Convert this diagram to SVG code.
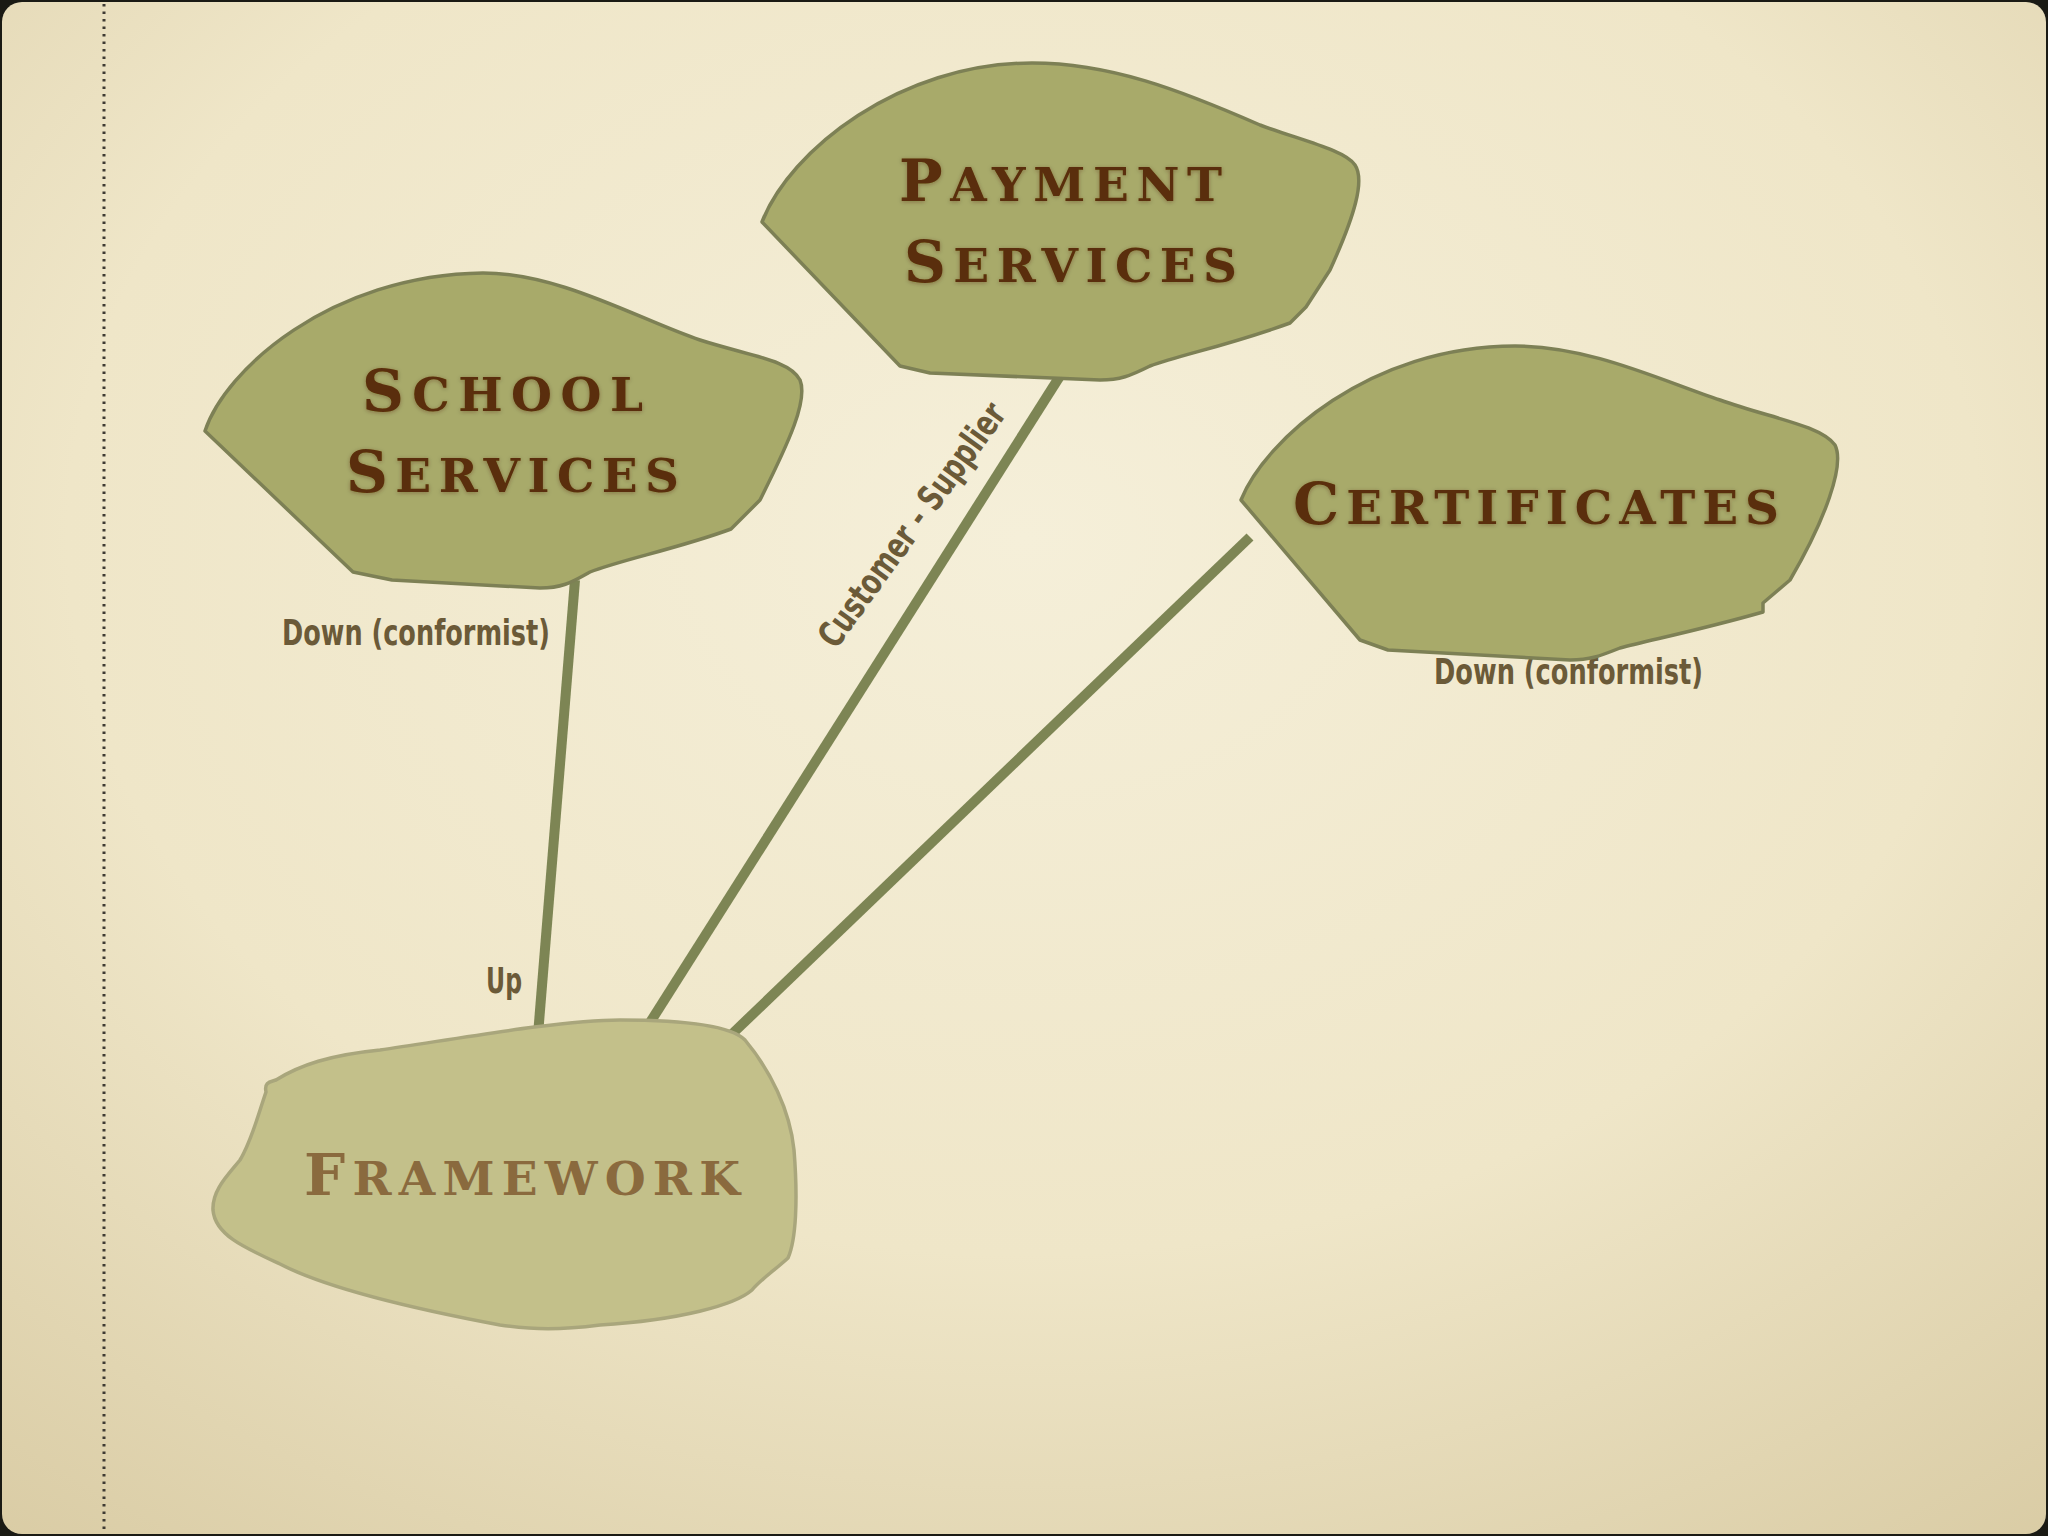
<svg xmlns="http://www.w3.org/2000/svg" width="2048" height="1536" viewBox="0 0 2048 1536">
<style>
.blob{fill:#a8aa6a;stroke:#7d8055;stroke-width:3.5;stroke-linejoin:round}
.blob-fw{fill:#c3c08a;stroke:#a9a67c;stroke-width:3.5;stroke-linejoin:round}
.title{font-family:"DejaVu Serif","Liberation Serif",serif;font-weight:bold;fill:#5a2f08;filter:url(#glow)}
.title-fw{font-family:"DejaVu Serif","Liberation Serif",serif;font-weight:bold;fill:#8a6a3e}
.big{font-size:58px}
.sm{font-size:47px}
.conn{stroke:#7d8554;stroke-width:10;stroke-linecap:butt;fill:none}
.lbl{font-family:"DejaVu Sans Condensed","Liberation Sans Narrow","Roboto Condensed",sans-serif;font-size:36px;fill:#6b5a38;font-weight:bold}
</style>
<defs>
<radialGradient id="bg" cx="50%" cy="35%" r="85%">
<stop offset="0" stop-color="#f5efd9"/>
<stop offset="0.55" stop-color="#efe6c8"/>
<stop offset="1" stop-color="#d8caa2"/>
</radialGradient>
<filter id="glow" x="-10%" y="-20%" width="120%" height="140%">
<feDropShadow dx="0" dy="1" stdDeviation="2" flood-color="#3a2000" flood-opacity="0.35"/>
</filter>
</defs>
<rect x="0" y="0" width="2048" height="1536" fill="#1a1a14"/>
<rect x="2" y="2" width="2044" height="1532" rx="20" ry="20" fill="url(#bg)"/>
<line x1="104" y1="4" x2="104" y2="1532" stroke="#3e3a33" stroke-width="3" stroke-dasharray="2.5 5"/>

<g id="connectors">
<line class="conn" x1="575" y1="580" x2="538" y2="1035"/>
<line class="conn" x1="1060" y1="376" x2="644" y2="1032"/>
<line class="conn" x1="1250" y1="537" x2="731" y2="1035"/>
<text class="lbl" x="282" y="645" textLength="268" lengthAdjust="spacingAndGlyphs">Down (conformist)</text>
<text class="lbl" x="486" y="993" textLength="36" lengthAdjust="spacingAndGlyphs">Up</text>
<text class="lbl" x="1434" y="684" textLength="269" lengthAdjust="spacingAndGlyphs">Down (conformist)</text>
<text class="lbl" transform="translate(912,525) rotate(-54)" x="-146" y="12" textLength="292" lengthAdjust="spacingAndGlyphs">Customer - Supplier</text>
</g>

<g id="school-services">
<path class="blob" d="M 205 431 C 225 370 330 275 483 273 C 560 273 640 320 700 340 C 750 356 790 360 800 380 C 808 400 790 440 760 500 L 731 529 C 680 548 620 560 590 572 C 575 580 565 588 540 588 L 392 580 L 353 572 Z"/>
<text class="title" x="362" y="411" textLength="281" lengthAdjust="spacing"><tspan class="big">S</tspan><tspan class="sm">CHOOL</tspan></text>
<text class="title" x="346" y="492" textLength="333" lengthAdjust="spacing"><tspan class="big">S</tspan><tspan class="sm">ERVICES</tspan></text>
</g>

<g id="payment-services">
<path class="blob" d="M 762 222 C 790 150 900 63 1032 63 C 1110 63 1180 90 1260 125 C 1300 140 1345 150 1355 165 C 1365 180 1355 215 1330 270 L 1306 307 L 1290 323 C 1230 345 1180 355 1150 366 C 1130 376 1120 380 1100 380 L 930 373 L 900 366 Z"/>
<text class="title" x="899" y="201" textLength="323" lengthAdjust="spacing"><tspan class="big">P</tspan><tspan class="sm">AYMENT</tspan></text>
<text class="title" x="904" y="282" textLength="333" lengthAdjust="spacing"><tspan class="big">S</tspan><tspan class="sm">ERVICES</tspan></text>
</g>

<g id="certificates">
<path class="blob" d="M 1241 500 C 1265 440 1370 346 1515 346 C 1590 346 1660 380 1720 400 C 1770 418 1820 425 1835 445 C 1845 465 1825 520 1790 580 L 1763 603 L 1763 612 C 1700 630 1650 640 1620 648 C 1600 656 1590 660 1570 660 L 1388 650 L 1360 640 Z"/>
<text class="title" x="1293" y="524" textLength="486" lengthAdjust="spacing"><tspan class="big">C</tspan><tspan class="sm">ERTIFICATES</tspan></text>
</g>

<g id="framework">
<path class="blob-fw" d="M 266 1092 C 264 1082 270 1082 276 1080 C 300 1065 330 1055 380 1050 C 450 1040 560 1020 620 1020 C 680 1020 730 1025 745 1040 C 770 1070 790 1110 794 1150 C 798 1200 796 1240 788 1258 C 775 1270 760 1280 752 1290 C 735 1305 680 1320 600 1325 C 560 1330 535 1330 500 1325 C 420 1310 330 1290 280 1264 C 245 1248 215 1235 213 1210 C 212 1190 228 1175 240 1160 C 252 1140 258 1115 266 1092 Z"/>
<text class="title-fw" x="304" y="1195" textLength="436" lengthAdjust="spacing"><tspan class="big">F</tspan><tspan class="sm">RAMEWORK</tspan></text>
</g>
</svg>
